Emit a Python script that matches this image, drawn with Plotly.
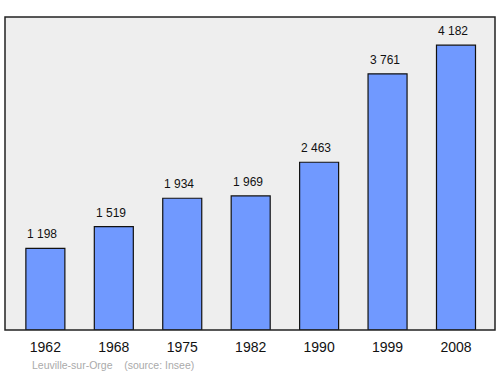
import plotly.graph_objects as go

years = ["1962", "1968", "1975", "1982", "1990", "1999", "2008"]
population = [1198, 1519, 1934, 1969, 2463, 3761, 4182]
labels = ["1 198", "1 519", "1 934", "1 969", "2 463", "3 761", "4 182"]

xs = list(range(len(years)))

fig = go.Figure()
fig.add_trace(go.Bar(
    x=xs, y=population, width=0.57,
    marker=dict(color="#7099ff", line=dict(color="#111111", width=1.2)),
    hoverinfo="skip",
))

for x, v, t in zip(xs, population, labels):
    fig.add_annotation(x=x, y=v, text=t, showarrow=False, yanchor="bottom",
                       xshift=-3, yshift=5, font=dict(family="Liberation Sans, Arial", size=12, color="#111111"))

fig.add_annotation(xref="paper", yref="paper", x=0.052, y=-0.112, xanchor="left", yanchor="middle",
                   text="Leuville-sur-Orge&nbsp;&nbsp;&nbsp;&nbsp;(source: Insee)", showarrow=False,
                   font=dict(family="Liberation Sans, Arial", size=10.5, color="#aaaaaa"))

fig.add_shape(type="rect", xref="paper", yref="paper", x0=0, y0=0, x1=1, y1=1,
              line=dict(color="#222222", width=1.5), layer="above")

fig.update_layout(
    width=500, height=374,
    margin=dict(l=5, r=5, t=17, b=44),
    paper_bgcolor="white", plot_bgcolor="#eeeeee",
    showlegend=False,
    xaxis=dict(range=[-0.59, 6.57], tickmode="array", tickvals=xs, ticktext=years,
               showgrid=False, zeroline=False, ticks="outside", ticklen=4, tickcolor="rgba(0,0,0,0)",
               tickfont=dict(family="Liberation Sans, Arial", size=14, color="#111111")),
    yaxis=dict(range=[0, 4595], showgrid=False, zeroline=False, showticklabels=False, ticks=""),
)

fig.write_html("out.html")
